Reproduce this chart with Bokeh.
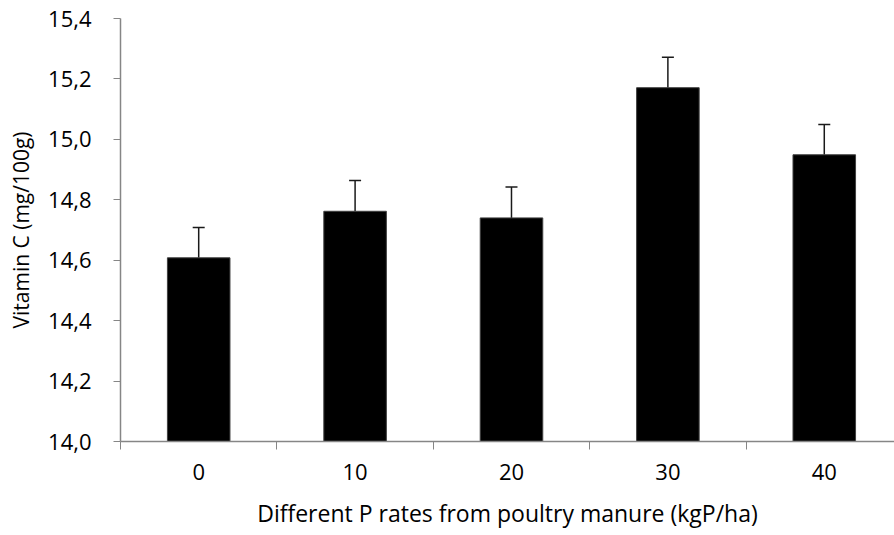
from bokeh.plotting import figure
from bokeh.models import ColumnDataSource, FixedTicker, CustomJSTickFormatter, Range1d, Whisker, TeeHead
from bokeh.embed import file_html
from bokeh.resources import INLINE

categories = ["0", "10", "20", "30", "40"]
vitamin_c = [14.608, 14.762, 14.740, 15.171, 14.949]
errors = [0.100, 0.102, 0.102, 0.101, 0.100]
y_ticks = [14.0, 14.2, 14.4, 14.6, 14.8, 15.0, 15.2, 15.4]

FONT = "Open Sans"
AXIS_COLOR = "#868686"

xpos = list(range(len(categories)))
src = ColumnDataSource(dict(
    x=xpos,
    top=vitamin_c,
    upper=[v + e for v, e in zip(vitamin_c, errors)],
))

p = figure(width=894, height=535, output_backend="svg", toolbar_location=None,
           x_range=Range1d(-0.5, 4.449), y_range=Range1d(14.0, 15.4),
           min_border_left=120, min_border_right=0, min_border_top=18, min_border_bottom=94)
p.outline_line_color = None
p.xgrid.visible = False
p.ygrid.visible = False
p.background_fill_color = "white"

p.vbar(x="x", top="top", bottom=14.0, width=0.4, source=src,
       fill_color="black", line_color="#404040", line_width=1)

w = Whisker(base="x", lower="top", upper="upper", source=src,
            line_color="#1a1a1a", line_width=1.5,
            upper_head=TeeHead(size=12, line_color="#1a1a1a", line_width=1.5),
            lower_head=None)
p.add_layout(w)

# x axis
p.xaxis.ticker = FixedTicker(ticks=xpos, minor_ticks=[i - 0.5 for i in range(len(categories) + 1)])
p.xaxis.major_label_overrides = {i: c for i, c in enumerate(categories)}
p.xaxis.major_tick_out = 0
p.xaxis.major_tick_in = 0
p.xaxis.minor_tick_out = 8
p.xaxis.minor_tick_in = 0
p.xaxis.minor_tick_line_color = AXIS_COLOR
p.xaxis.axis_line_color = AXIS_COLOR
p.xaxis.major_label_standoff = 14
p.xaxis.axis_label = "Different P rates from poultry manure (kgP/ha)"
p.xaxis.axis_label_standoff = 14

# y axis
p.yaxis.ticker = FixedTicker(ticks=y_ticks, minor_ticks=[])
p.yaxis.formatter = CustomJSTickFormatter(code="return tick.toFixed(1).replace('.', ',');")
p.yaxis.major_tick_out = 7
p.yaxis.major_tick_in = 0
p.yaxis.major_tick_line_color = AXIS_COLOR
p.yaxis.axis_line_color = AXIS_COLOR
p.yaxis.major_label_standoff = 22
p.yaxis.axis_label = "Vitamin C (mg/100g)"
p.yaxis.axis_label_standoff = 10

for ax in (p.xaxis, p.yaxis):
    ax.major_label_text_font = FONT
    ax.major_label_text_font_size = "22px"
    ax.major_label_text_color = "black"
    ax.axis_label_text_font = FONT
    ax.axis_label_text_font_size = "23px"
    ax.axis_label_text_font_style = "normal"
    ax.axis_label_text_color = "black"
    ax.axis_line_width = 1.5
p.yaxis.axis_label_text_font_size = "21px"

open("out.html", "w").write(file_html(p, INLINE))
